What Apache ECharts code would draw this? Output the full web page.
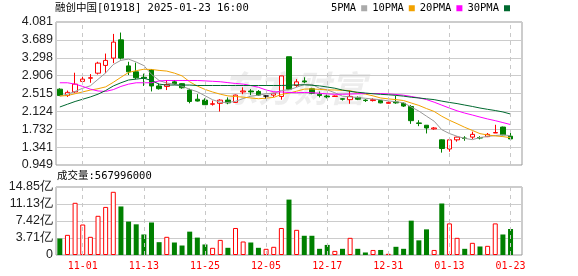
<!DOCTYPE html>
<html><head><meta charset="utf-8">
<script src="https://cdn.jsdelivr.net/npm/echarts@6/dist/echarts.min.js"></script>
<style>html,body{margin:0;padding:0;background:#fff}#c{width:578px;height:276px}</style>
</head><body><div id="c"></div>
<script>
const dates = ['10-29','10-30','10-31','11-01','11-04','11-05','11-06','11-07','11-08','11-11','11-12','11-13','11-14','11-15','11-18','11-19','11-20','11-21','11-22','11-25','11-26','11-27','11-28','11-29','12-02','12-03','12-04','12-05','12-06','12-09','12-10','12-11','12-12','12-13','12-16','12-17','12-18','12-19','12-20','12-23','12-24','12-27','12-30','12-31','01-02','01-03','01-06','01-07','01-08','01-09','01-10','01-13','01-14','01-15','01-16','01-17','01-20','01-21','01-22','01-23'];
const openP  = [2.61,2.47,2.55,2.78,2.85,2.96,3.13,3.29,3.69,3.12,2.99,2.87,3.03,2.68,2.67,2.77,2.73,2.59,2.39,2.37,2.28,2.30,2.37,2.32,2.55,2.57,2.56,2.46,2.48,2.45,3.32,2.69,2.79,2.62,2.50,2.46,2.45,2.40,2.38,2.43,2.37,2.36,2.36,2.30,2.33,2.30,2.23,1.87,1.82,1.74,1.50,1.30,1.50,1.54,1.56,1.55,1.57,1.65,1.78,1.58];
const closeP = [2.47,2.54,2.72,2.83,2.86,3.18,3.24,3.64,3.29,2.99,2.86,2.85,2.68,2.62,2.71,2.73,2.64,2.34,2.35,2.27,2.29,2.37,2.31,2.48,2.57,2.55,2.48,2.46,2.52,2.90,2.61,2.77,2.77,2.52,2.47,2.44,2.46,2.39,2.45,2.39,2.36,2.38,2.31,2.32,2.31,2.24,1.92,1.86,1.76,1.76,1.31,1.50,1.56,1.53,1.62,1.54,1.62,1.66,1.61,1.52];
const lowP   = [2.46,2.44,2.53,2.72,2.75,2.93,2.96,3.18,3.26,2.92,2.83,2.68,2.56,2.60,2.59,2.70,2.62,2.30,2.34,2.27,2.25,2.12,2.28,2.31,2.50,2.48,2.46,2.40,2.44,2.38,2.60,2.66,2.74,2.50,2.43,2.41,2.44,2.36,2.29,2.37,2.33,2.34,2.30,2.29,2.29,2.22,1.85,1.80,1.64,1.72,1.22,1.24,1.46,1.48,1.52,1.51,1.56,1.65,1.60,1.49];
const highP  = [2.63,2.58,2.97,2.88,2.94,3.21,3.39,3.82,3.85,3.21,3.19,2.95,3.05,2.73,2.81,2.81,2.74,2.62,2.50,2.41,2.36,2.39,2.43,2.49,2.65,2.61,2.59,2.47,2.53,2.90,3.32,2.83,2.87,2.64,2.56,2.49,2.47,2.41,2.57,2.45,2.39,2.41,2.37,2.34,2.46,2.32,2.26,1.93,1.82,1.78,1.51,1.53,1.57,1.58,1.68,1.58,1.65,1.83,1.79,1.66];
const volume = [3.6e8,4.4e8,11.4e8,6.66e8,3.97e8,8.56e8,10.5e8,13.8e8,10.6e8,7.3e8,6.7e8,4.48e8,7.1e8,2.8e8,3.97e8,2.73e8,2.07e8,5.1e8,3.8e8,2.3e8,1.57e8,3.3e8,1.57e8,5.9e8,2.95e8,2.73e8,1.57e8,1.35e8,1.79e8,5.9e8,12.1e8,5.5e8,4.2e8,4.2e8,1.35e8,2.2e8,0.9e8,1.35e8,3.75e8,1.35e8,0.55e8,1.1e8,1.1e8,0.26e8,1.79e8,1.35e8,7.5e8,3.2e8,5.6e8,1.1e8,11.25e8,6.9e8,3.75e8,1.35e8,2.66e8,1.86e8,2.0e8,6.9e8,4.48e8,567996000];
const ma5  = [2.46,2.50,2.56,2.63,2.684,2.826,2.966,3.150,3.242,3.268,3.204,3.126,2.934,2.800,2.744,2.718,2.676,2.608,2.554,2.466,2.378,2.324,2.318,2.344,2.404,2.456,2.478,2.508,2.516,2.582,2.594,2.652,2.714,2.714,2.628,2.594,2.532,2.456,2.442,2.426,2.410,2.394,2.378,2.352,2.336,2.312,2.220,2.130,2.018,1.908,1.722,1.638,1.578,1.532,1.504,1.550,1.574,1.594,1.610,1.590];
const ma10 = [2.46,2.47,2.51,2.55,2.59,2.62,2.66,2.76,2.87,2.976,3.015,3.046,3.042,3.021,3.006,2.961,2.901,2.771,2.677,2.605,2.548,2.500,2.463,2.449,2.435,2.417,2.401,2.413,2.430,2.493,2.525,2.565,2.611,2.615,2.605,2.594,2.592,2.585,2.578,2.527,2.502,2.463,2.417,2.397,2.381,2.361,2.307,2.254,2.185,2.122,2.017,1.929,1.854,1.775,1.706,1.636,1.606,1.586,1.571,1.547];
const ma20 = [2.75,2.75,2.72,2.67,2.61,2.57,2.56,2.60,2.67,2.72,2.75,2.75,2.75,2.79,2.80,2.80,2.80,2.80,2.80,2.791,2.782,2.773,2.753,2.735,2.721,2.689,2.651,2.592,2.554,2.549,2.537,2.533,2.537,2.532,2.520,2.506,2.497,2.499,2.504,2.510,2.514,2.514,2.514,2.506,2.493,2.478,2.450,2.420,2.382,2.325,2.260,2.196,2.136,2.086,2.044,1.999,1.957,1.920,1.878,1.835];
const ma30 = [2.22,2.28,2.34,2.39,2.44,2.50,2.58,2.68,2.75,2.81,2.83,2.85,2.80,2.72,2.70,2.70,2.70,2.70,2.69,2.69,2.69,2.69,2.69,2.69,2.69,2.69,2.69,2.69,2.69,2.691,2.696,2.704,2.705,2.695,2.682,2.657,2.631,2.590,2.562,2.542,2.525,2.509,2.497,2.487,2.474,2.457,2.433,2.417,2.398,2.381,2.348,2.319,2.294,2.262,2.231,2.197,2.168,2.142,2.111,2.065];
const priceTicks = ['0.949','1.341','1.732','2.124','2.515','2.906','3.298','3.689','4.081'];
const volTicks = ['0','3.71亿','7.42亿','11.13亿','14.85亿'];
const labelDates = ['11-01','11-13','11-25','12-05','12-17','12-31','01-13','01-23'];
const titleText = '融创中国[01918] 2025-01-23 16:00';
const volTitle = '成交量:567996000';

const UP = '#ff0000', DOWN = '#008000';
const mono = "'DejaVu Sans Mono','Noto Sans CJK SC',monospace";
const candleData = dates.map((d, i) => [openP[i], closeP[i], lowP[i], highP[i]]);
const volData = volume.map((v, i) => {
  const up = closeP[i] >= openP[i];
  return { value: v, itemStyle: up ? { color: '#fff', borderColor: UP, borderWidth: 1 } : { color: DOWN, borderColor: DOWN, borderWidth: 0 } };
});
const labelSet = new Set(labelDates);
const showIdx = (idx) => labelSet.has(dates[idx]);
const vLines = {
  silent: true, symbol: ['none', 'none'], animation: false,
  label: { show: false },
  lineStyle: { color: '#c8c8c8', type: [4, 4], width: 1 },
  emphasis: { disabled: true },
  data: labelDates.map(d => ({ xAxis: d }))
};
const xMax = dates.length - 0.4;

const chart = echarts.init(document.getElementById('c'), null, { renderer: 'canvas' });
chart.setOption({
  animation: false,
  backgroundColor: '#fff',
  title: [
    { text: titleText, left: 55, top: 3, padding: 0, textStyle: { fontSize: 10.5, fontWeight: 'normal', color: '#000', fontFamily: mono } },
    { text: volTitle, left: 57, top: 171, padding: 0, textStyle: { fontSize: 10.5, fontWeight: 'normal', color: '#000', fontFamily: mono } }
  ],
  legend: {
    data: ['5PMA', '10PMA', '20PMA', '30PMA'],
    right: 68, top: 3, padding: 0, align: 'right', icon: 'rect',
    itemWidth: 6, itemHeight: 6, itemGap: 5,
    textStyle: { fontSize: 10.5, color: '#000', fontFamily: mono },
    selectedMode: false
  },
  grid: [
    { left: 56, right: 56, top: 22, height: 143, show: true, borderColor: '#999', borderWidth: 1 },
    { left: 56, right: 56, top: 187, height: 68, show: true, borderColor: '#999', borderWidth: 1 }
  ],
  xAxis: [
    { type: 'category', gridIndex: 0, data: dates, max: xMax, boundaryGap: true,
      axisLine: { show: false }, axisTick: { show: false }, axisLabel: { show: false }, splitLine: { show: false } },
    { type: 'category', gridIndex: 1, data: dates, max: xMax, boundaryGap: true,
      axisLine: { show: false }, axisTick: { show: false }, splitLine: { show: false },
      axisLabel: { color: '#ff0000', fontSize: 10, fontFamily: mono, margin: 6, interval: (idx) => showIdx(idx) } }
  ],
  yAxis: [
    { type: 'value', gridIndex: 0, min: 0.949, max: 4.081, interval: 0.3915, scale: true,
      axisLine: { show: false }, axisTick: { show: false },
      axisLabel: { margin: 3, fontSize: 12.5, color: '#222', fontFamily: "'Liberation Sans',Arial,sans-serif", formatter: (v, i) => priceTicks[i] },
      splitLine: { lineStyle: { color: '#cccccc', width: 1 } } },
    { type: 'value', gridIndex: 1, min: 0, max: 14.85e8, interval: 3.7125e8,
      axisLine: { show: false }, axisTick: { show: false },
      axisLabel: { margin: 3, fontSize: 12.5, color: '#222', fontFamily: "'Liberation Sans',Arial,sans-serif", formatter: (v, i) => volTicks[i] },
      splitLine: { lineStyle: { color: '#cccccc', width: 1 } } }
  ],
  graphic: [
    { type: 'text', left: 222, top: 70, silent: true, z: 0,
      style: { text: '东方财富', fontSize: 36, fontWeight: 'bold', fontStyle: 'italic', fill: 'rgba(0,0,0,0.07)', fontFamily: "'Noto Sans CJK SC'" } }
  ],
  series: [
    { type: 'candlestick', name: 'K', xAxisIndex: 0, yAxisIndex: 0, data: candleData, barWidth: 5,
      itemStyle: { color: '#fff', color0: DOWN, borderColor: UP, borderColor0: DOWN, borderColorDoji: '#000', borderWidth: 1 },
      markLine: vLines },
    { type: 'line', name: '5PMA', data: ma5, showSymbol: false, symbol: 'none', lineStyle: { width: 1, color: '#999999' }, itemStyle: { color: '#aaaaaa' } },
    { type: 'line', name: '10PMA', data: ma10, showSymbol: false, symbol: 'none', lineStyle: { width: 1, color: '#f2a200' }, itemStyle: { color: '#f2a200' } },
    { type: 'line', name: '20PMA', data: ma20, showSymbol: false, symbol: 'none', lineStyle: { width: 1, color: '#ff00ff' }, itemStyle: { color: '#ff00ff' } },
    { type: 'line', name: '30PMA', data: ma30, showSymbol: false, symbol: 'none', lineStyle: { width: 1, color: '#00692f' }, itemStyle: { color: '#00692f' } },
    { type: 'bar', name: 'VOL', xAxisIndex: 1, yAxisIndex: 1, data: volData, barWidth: 5, markLine: vLines }
  ]
});
</script></body></html>
